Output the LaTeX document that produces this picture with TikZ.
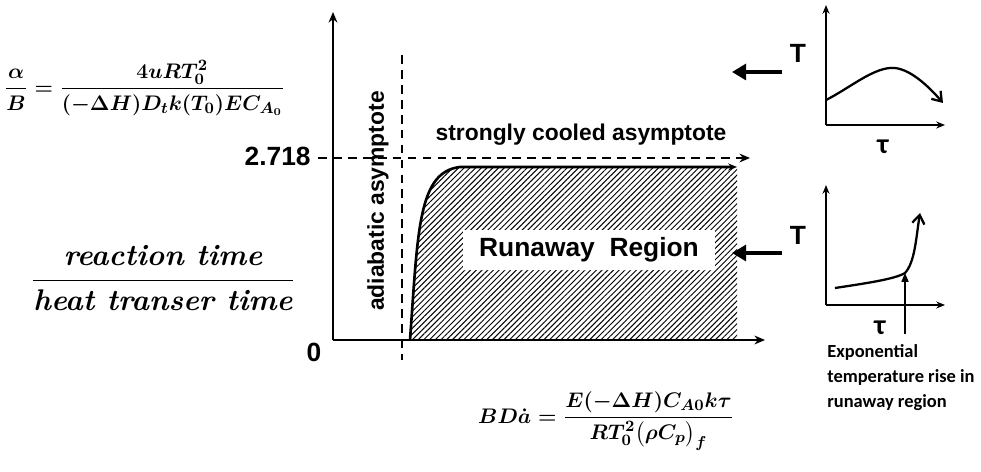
\documentclass[tikz,border=0pt]{standalone}
\usepackage{amsmath}
\usepackage{fontspec}
\setsansfont{Liberation Sans}
\newfontfamily\calfont{Carlito}
\usetikzlibrary{arrows.meta,patterns.meta}
\def\sz#1{\fontsize{#1}{#1}\selectfont}

\begin{document}
\begin{tikzpicture}[x=0.569pt,y=-0.569pt,
		axis/.style={line width=1.2pt,-{Stealth[length=6pt,width=5pt]}},
		asym/.style={line width=1.1pt,dash pattern=on 5pt off 3.5pt},
		pointer/.style={line width=2.4pt,-{Triangle[length=8pt,width=9pt]}},
		lbl/.style={font=\sffamily\bfseries\sz{13},inner sep=0pt},
		big/.style={font=\sffamily\bfseries\sz{15},inner sep=0pt},
		eqn/.style={font=\sz{13}\boldmath,inner sep=0pt}]
			%%%%% START %%%%%
			\useasboundingbox (0,0) rectangle (981,472);
			
			% main axes
			\coordinate (O) at (333,340);
			\coordinate (ytop) at (333,12);
			\coordinate (xend) at (765,340);
			\draw[axis] (O) -- (ytop);
			\draw[axis] (O) -- (xend);
			
			% runaway region
			\coordinate (start) at (410,340);
			\coordinate (knee) at (460,167);
			\coordinate (flat) at (737,167);
			\fill[pattern={Lines[angle=45,distance=2.3pt,line width=0.55pt]}] (start) .. controls (418,230) and (418,172) .. (knee) -- (flat) -- (737,340) -- cycle;
			\draw[line width=1.5pt,-{Stealth[length=5pt,width=4pt]}] (start) .. controls (418,230) and (418,172) .. (knee) -- (flat);
			
			% asymptotes
			\coordinate (adtop) at (402,55);
			\coordinate (adbot) at (402,360);
			\draw[asym] (adtop) -- (adbot);
			\coordinate (coolL) at (318,158);
			\coordinate (coolR) at (750,158);
			\draw[asym,-{Stealth[length=6pt,width=5pt]}] (coolL) -- (coolR);
			
			\node[big,anchor=east] (ymax) at (311,156) {2.718};
			\node[big] (yzero) at (314,352) {0};
			\node[lbl] (cooled) at (581,135) {strongly cooled asymptote};
			\node[lbl,rotate=90] (adiab) at (378,201) {adiabatic asymptote};
			\node[big,fill=white,minimum width=143pt,minimum height=23pt] (runaway) at (589,250) {Runaway\ \ Region};
			
			% formulas
			\node[eqn,anchor=west] (alpha) at (4,88) {$\dfrac{\alpha}{B}=\dfrac{4uRT_0^2}{(-\Delta H)D_t k(T_0)EC_{A_0}}$};
			\node[eqn,font=\sz{17}\boldmath] (ratio) at (163,278) {$\dfrac{\text{\bfseries\itshape reaction time}}{\text{\bfseries\itshape heat transer time}}$};
			\node[eqn,font=\sz{12.4}\boldmath] (bda) at (606,421) {$BD\dot{a}=\dfrac{E(-\Delta H)C_{A0}k\tau}{RT_0^2\big(\rho C_p\big)_f}$};
			
			% top inset
			\coordinate (Oa) at (826,125);
			\draw[axis,-{Stealth[length=5pt,width=4pt]}] (Oa) -- (826,5);
			\draw[axis,-{Stealth[length=5pt,width=4pt]}] (Oa) -- (945,125);
			\draw[line width=1.3pt,-{Straight Barb[length=5pt,width=7pt]}] (826,100) .. controls (850,88) and (875,66) .. (895,68) .. controls (912,70) and (930,88) .. (943,103);
			\node[big] (Ta) at (798,53) {T};
			\node[font=\calfont\bfseries\sz{16}] (taua) at (883,147) {τ};
			\coordinate (pa) at (732,72);
			\draw[pointer] (782,72) -- (pa);
			
			% bottom inset
			\coordinate (Ob) at (826,305);
			\draw[axis,-{Stealth[length=5pt,width=4pt]}] (Ob) -- (826,185);
			\draw[axis,-{Stealth[length=5pt,width=4pt]}] (Ob) -- (945,305);
			\coordinate (rise) at (905,273);
			\draw[line width=1.3pt,-{Straight Barb[length=5pt,width=7pt]}] (835,288) .. controls (868,283) and (895,279) .. (rise) .. controls (915,262) and (916,238) .. (920,213);
			\node[big] (Tb) at (798,235) {T};
			\node[font=\calfont\bfseries\sz{16}] (taub) at (880,328) {τ};
			\coordinate (pb) at (732,253);
			\draw[pointer] (782,253) -- (pb);
			\node[font=\calfont\bfseries\fontsize{10.5}{14.2}\selectfont,align=left,anchor=north west,inner sep=0pt] (expo) at (827,344) {Exponential\\temperature rise in\\runaway region};
			\draw[line width=0.8pt,-{Triangle[length=5pt,width=4pt]}] (expo.north west -| rise) ++(0,-10) -- (rise);
			%%%%% END %%%%%
\end{tikzpicture}
\end{document}
